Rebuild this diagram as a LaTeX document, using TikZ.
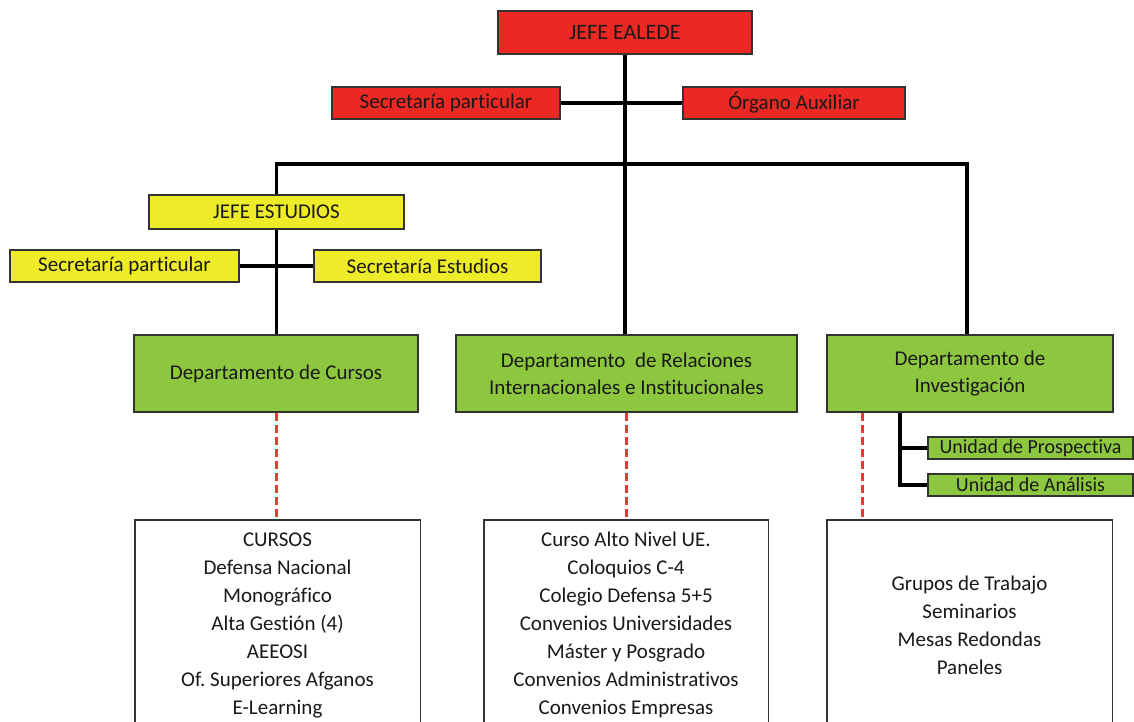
\documentclass[tikz,border=0pt]{standalone}
\usepackage{fontspec}
\setmainfont{Carlito}[Ligatures=NoCommon]
\frenchspacing
\definecolor{bred}{RGB}{236,40,36}
\definecolor{byel}{RGB}{238,236,40}
\definecolor{bgrn}{RGB}{141,198,63}
\definecolor{dred}{RGB}{232,60,50}
\definecolor{txt}{RGB}{25,25,25}
\begin{document}
\begin{tikzpicture}[x=1pt,y=-1pt,
  box/.style={draw=black!80, line width=1.4pt, inner sep=0pt, text=txt, align=center,
    font=\fontsize{21}{27}\selectfont},
  redbox/.style={box, fill=bred},
  yelbox/.style={box, fill=byel},
  grnbox/.style={box, fill=bgrn},
  listbox/.style={inner sep=0pt, text=txt, align=center, font=\fontsize{21}{28}\selectfont,
    minimum width=285pt, minimum height=210pt},
  conn/.style={draw=black, line width=3.2pt},
  reddash/.style={draw=dred, line width=3pt, dash pattern=on 8pt off 4pt},
  outline/.style={draw=black!80, line width=1.4pt}]
\useasboundingbox[fill=white] (0,0) rectangle (1134,722);

% top level
\node[redbox, minimum width=254pt, minimum height=43pt, font=\fontsize{22}{27}\selectfont] (jefe) at (625,32.5) {JEFE EALEDE};
\node[redbox, minimum width=228pt, minimum height=32pt] (sp1) at (446,103) {Secretaría particular};
\node[redbox, minimum width=222pt, minimum height=32pt] (org) at (794,103) {Órgano Auxiliar};

% estudios
\node[yelbox, minimum width=255pt, minimum height=34pt] (je) at (276.5,212) {JEFE ESTUDIOS};
\node[yelbox, minimum width=229pt, minimum height=32pt] (sp2) at (124.5,266) {Secretaría particular};
\node[yelbox, minimum width=227pt, minimum height=32pt] (se) at (427.5,266) {Secretaría Estudios};

% departments
\node[grnbox, minimum width=284pt, minimum height=77pt] (dc) at (276,373.5) {Departamento de Cursos};
\node[grnbox, minimum width=341pt, minimum height=77pt] (dri) at (626.5,373.5) {Departamento\ \ de Relaciones\\Internacionales e Institucionales};
\node[grnbox, minimum width=286pt, minimum height=77pt] (dinv) at (970,373.5) {Departamento de\\Investigación};

% units
\node[grnbox, minimum width=205pt, minimum height=22pt, font=\fontsize{20}{24}\selectfont] (up) at (1030.5,448) {Unidad de Prospectiva};
\node[grnbox, minimum width=205pt, minimum height=22pt, font=\fontsize{20}{24}\selectfont] (ua) at (1030.5,485) {Unidad de Análisis};

% lists
\node[listbox] (b1) at (277.5,625) {CURSOS\\Defensa Nacional\\Monográfico\\Alta Gestión (4)\\AEEOSI\\Of. Superiores Afganos\\E-Learning};
\node[listbox, minimum width=284pt] (b2) at (626,625) {Curso Alto Nivel UE.\\Coloquios C-4\\Colegio Defensa 5+5\\Convenios Universidades\\Máster y Posgrado\\Convenios Administrativos\\Convenios Empresas};
\node[listbox] (b3) at (969.5,625) {Grupos de Trabajo\\Seminarios\\Mesas Redondas\\Paneles};
\foreach \b in {b1,b2,b3}{
  \draw[outline] (\b.south west) -- (\b.north west) -- (\b.north east) -- (\b.south east);
}

% connectors
\coordinate (busL) at (276.5,164);
\coordinate (busR) at (967,164);
\draw[conn] (jefe.south) -- (jefe.south |- dri.north);
\draw[conn] (sp1.east) -- (org.west);
\draw[conn] (je.north) -- (busL) -- (busR) -- (busR |- dinv.north);
\draw[conn] (je.south) -- (je.south |- dc.north);
\draw[conn] (sp2.east) -- (se.west);
\draw[conn] ([xshift=-70pt]dinv.south) |- (up.west);
\draw[conn] ([xshift=-70pt]dinv.south) |- (ua.west);

% dashed links
\draw[reddash] (dc.south) -- (dc.south |- b1.north);
\draw[reddash] (dri.south) -- (dri.south |- b2.north);
\draw[reddash] ([xshift=-108pt]dinv.south) -- ([xshift=-108pt]dinv.south |- b3.north);
\end{tikzpicture}
\end{document}
